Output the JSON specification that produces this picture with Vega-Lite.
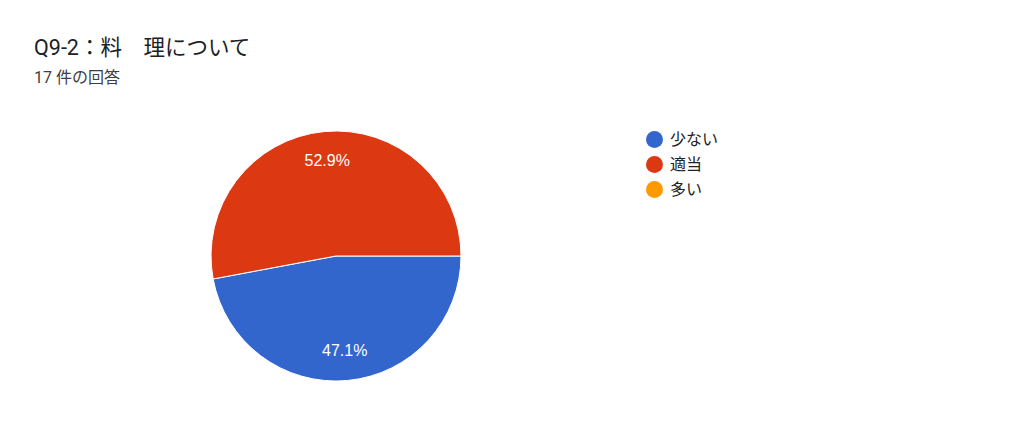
{
  "$schema": "https://vega.github.io/schema/vega-lite/v6.json",
  "width": 250,
  "height": 250,
  "autosize": "none",
  "padding": {"left": 211, "top": 131, "right": 563, "bottom": 51},
  "background": "white",
  "title": {
    "text": "Q9-2：料　理について",
    "subtitle": "17 件の回答",
    "anchor": "start",
    "frame": "group",
    "orient": "top",
    "dx": -177,
    "offset": 43,
    "font": "Roboto, Noto Sans CJK JP, sans-serif",
    "fontSize": 21.5,
    "fontWeight": "normal",
    "color": "#202124",
    "subtitleFont": "Roboto, Noto Sans CJK JP, sans-serif",
    "subtitleFontSize": 16,
    "subtitleColor": "#3c4043",
    "subtitlePadding": 11
  },
  "data": {
    "values": [
      {"answer": "少ない", "count": 8, "ord": 1, "label": "47.1%"},
      {"answer": "適当", "count": 9, "ord": 2, "label": "52.9%"}
    ]
  },
  "encoding": {
    "theta": {"field": "count", "type": "quantitative", "stack": true, "scale": {"range": [1.5707963, 7.8539816]}},
    "order": {"field": "ord", "type": "quantitative"},
    "color": {
      "field": "answer",
      "type": "nominal",
      "scale": {"domain": ["少ない", "適当", "多い"], "range": ["#3366cc", "#dc3912", "#ff9900"]},
      "legend": {
        "title": null,
        "orient": "right",
        "offset": 185,
        "symbolType": "circle",
        "symbolSize": 289,
        "symbolStrokeWidth": 0,
        "labelFont": "Arial, Liberation Sans, Noto Sans CJK JP, sans-serif",
        "labelFontSize": 16,
        "labelColor": "#222222",
        "labelOffset": 7,
        "rowPadding": 8
      }
    }
  },
  "layer": [
    {"mark": {"type": "arc", "stroke": "white", "strokeWidth": 1}},
    {
      "mark": {"type": "text", "radius": 95, "fill": "white", "fontSize": 16, "font": "Arial, Liberation Sans, sans-serif"},
      "encoding": {"text": {"field": "label", "type": "nominal"}}
    }
  ],
  "config": {"view": {"stroke": null}}
}
